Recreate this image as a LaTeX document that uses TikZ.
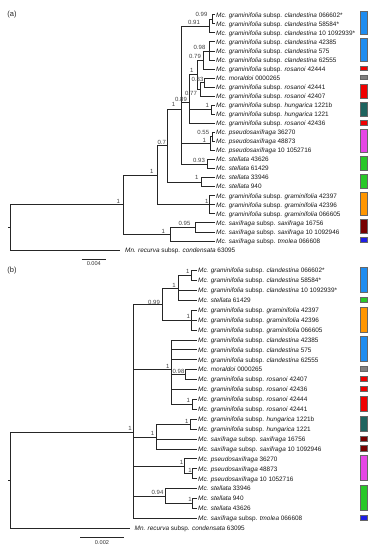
\documentclass[tikz,border=0pt]{standalone}
\usepackage{fontspec}
\setmainfont{Liberation Sans}
\newcommand{\grsub}[1]{\textit{Mc. graminifolia} subsp. \textit{#1}}
\newcommand{\sxsub}[1]{\textit{Mc. saxifraga} subsp. \textit{#1}}
\newcommand{\mcsp}[1]{\textit{Mc. #1}}
\definecolor{cblue}{RGB}{30,140,240}
\definecolor{cred}{RGB}{240,0,0}
\definecolor{cgray}{RGB}{128,128,128}
\definecolor{cteal}{RGB}{30,100,95}
\definecolor{cmag}{RGB}{230,70,230}
\definecolor{cgreen}{RGB}{40,200,40}
\definecolor{corange}{RGB}{255,150,0}
\definecolor{cmaroon}{RGB}{120,0,0}
\definecolor{cdblue}{RGB}{30,30,230}
\tikzset{
  br/.style={line width=0.8pt, draw=black!85},
  leaf/.style={anchor=west, inner xsep=1.5pt, inner ysep=0pt, font=\fontsize{6.4}{7}\selectfont, text=black!90, text height=4.6pt, text depth=0pt},
  supp/.style={font=\fontsize{6}{7}\selectfont, text=black!75, inner sep=0pt},
  panel/.style={font=\fontsize{7.5}{9}\selectfont, text=black!85, inner sep=0pt},
  sclab/.style={font=\fontsize{5.6}{7}\selectfont, text=black!80, inner sep=0pt},
  bar/.style={draw=black!60, line width=0.4pt},
}
\begin{document}
\begin{tikzpicture}[x=1pt,y=-1pt]
\path[fill=white,use as bounding box] (0,0) rectangle (375,550);

% ================= PANEL (a) =================
\node[panel] (pa) at (12,15) {(a)};
\foreach \i/\t in {0/{\grsub{clandestina} 066602*},1/{\grsub{clandestina} 58584*},2/{\grsub{clandestina} 10 1092939*},3/{\grsub{clandestina} 42385},4/{\grsub{clandestina} 575},5/{\grsub{clandestina} 62555},6/{\grsub{rosanoi} 42444},7/{\mcsp{moraldoi} 0000265},8/{\grsub{rosanoi} 42441},9/{\grsub{rosanoi} 42407},10/{\grsub{hungarica} 1221b},11/{\grsub{hungarica} 1221},12/{\grsub{rosanoi} 42436},13/{\mcsp{pseudosaxifraga} 36270},14/{\mcsp{pseudosaxifraga} 48873},15/{\mcsp{pseudosaxifraga} 10 1052716},16/{\mcsp{stellata} 43626},17/{\mcsp{stellata} 61429},18/{\mcsp{stellata} 33946},19/{\mcsp{stellata} 940},20/{\grsub{graminifolia} 42397},21/{\grsub{graminifolia} 42396},22/{\grsub{graminifolia} 066605},23/{\sxsub{saxifraga} 16756},24/{\sxsub{saxifraga} 10 1092946},25/{\sxsub{tmolea} 066608}}
  \node[leaf] (ta\i) at (214.5,{14.7+9.05*\i}) {\t};
\node[leaf, inner xsep=5pt] (ta26) at (120,250) {\textit{Mn. recurva} subsp. \textit{condensata} 63095};

\coordinate (aA) at (212,19.225);
\coordinate (aB) at (209.5,26.01);
\coordinate (aE0) at (209.5,50.9);
\coordinate (aE) at (203,59.95);
\coordinate (aM1) at (204.5,82.575);
\coordinate (aM2) at (200,89.36);
\coordinate (aQ) at (197.3,74.66);
\coordinate (aH) at (211.5,109.725);
\coordinate (aX) at (189.3,102.56);
\coordinate (aP1) at (212,136.875);
\coordinate (aP) at (210,143.66);
\coordinate (aST1) at (207,164.025);
\coordinate (aG3) at (181.5,109.06);
\coordinate (aST2) at (201.7,182.125);
\coordinate (aG2) at (167.7,145.59);
\coordinate (aGR) at (209.5,204.75);
\coordinate (aG1) at (157.3,175.17);
\coordinate (aS1) at (195,227.375);
\coordinate (aS2) at (170,234.16);
\coordinate (aR1) at (123.3,204.67);
\coordinate (aR0) at (10,227.33);

\draw[br] (aA) |- (ta0.west) (aA) |- (ta1.west);
\draw[br] (aB) |- (aA) (aB) |- (ta2.west);
\draw[br] (aE0) |- (ta3.west) (aE0) |- (ta4.west) (aE0) |- (ta5.west);
\draw[br] (aE) |- (aE0) (aE) |- (ta6.west);
\draw[br] (aM1) |- (ta7.west) (aM1) |- (ta8.west);
\draw[br] (aM2) |- (aM1) (aM2) |- (ta9.west);
\draw[br] (aQ) |- (aE) (aQ) |- (aM2);
\draw[br] (aH) |- (ta10.west) (aH) |- (ta11.west);
\draw[br] (aX) |- (aQ) (aX) |- (aH) (aX) |- (ta12.west);
\draw[br] (aP1) |- (ta13.west) (aP1) |- (ta14.west);
\draw[br] (aP) |- (aP1) (aP) |- (ta15.west);
\draw[br] (aST1) |- (ta16.west) (aST1) |- (ta17.west);
\draw[br] (aG3) |- (aB) (aG3) |- (aX) (aG3) |- (aP) (aG3) |- (aST1);
\draw[br] (aST2) |- (ta18.west) (aST2) |- (ta19.west);
\draw[br] (aG2) |- (aG3) (aG2) |- (aST2);
\draw[br] (aGR) |- (ta20.west) (aGR) |- (ta21.west) (aGR) |- (ta22.west);
\draw[br] (aG1) |- (aG2) (aG1) |- (aGR);
\draw[br] (aS1) |- (ta23.west) (aS1) |- (ta24.west);
\draw[br] (aS2) |- (aS1) (aS2) |- (ta25.west);
\draw[br] (aR1) |- (aG1) (aR1) |- (aS2);
\draw[br] (aR0) |- (aR1) (aR0) |- (ta26.west);
\draw[br] (aR0) -- ++(-2.5,0);

% support values (a)
\node[supp] (sa1) at (201.5,14.7) {0.99};
\node[supp] (sa2) at (194,22.7) {0.91};
\node[supp] (sa3) at (199.5,47.3) {0.98};
\node[supp] (sa4) at (195,56.7) {0.79};
\node[supp] (sa5) at (191.7,70.7) {1};
\node[supp] (sa6) at (197.5,79) {0.83};
\node[supp] (sa7) at (191,93.3) {0.77};
\node[supp] (sa8) at (181,99.2) {0.89};
\node[supp] (sa9) at (173.5,104.5) {1};
\node[supp] (sa10) at (207.3,105.7) {1};
\node[supp] (sa11) at (203.3,132.7) {0.55};
\node[supp] (sa12) at (204.3,140) {1};
\node[supp] (sa13) at (199,160) {0.93};
\node[supp] (sa14) at (161.7,142.3) {0.7};
\node[supp] (sa15) at (196.7,177.7) {1};
\node[supp] (sa16) at (151.7,171) {1};
\node[supp] (sa17) at (206.7,201) {1};
\node[supp] (sa18) at (184.5,223.3) {0.95};
\node[supp] (sa19) at (163.3,231) {1};
\node[supp] (sa20) at (118.3,201.7) {1};

% scale bar (a)
\coordinate (sba1) at (81.7,259);
\coordinate (sba2) at (106,259);
\draw[br] (sba1) -- (sba2);
\node[sclab] (sbla) at (93.8,264) {0.004};

% colour bars (a)
\foreach \c/\f/\l in {cblue/0/2, cblue/3/5, cred/6/6, cgray/7/7, cred/8/9, cteal/10/11, cred/12/12, cmag/13/15, cgreen/16/17, cgreen/18/19, corange/20/22, cmaroon/23/24, cdblue/25/25}
  \filldraw[bar, fill=\c] (360,{14.7+9.05*\f-3.3}) rectangle (366.7,{14.7+9.05*\l+1.6});

% ================= PANEL (b) =================
\node[panel] (pb) at (12,270.7) {(b)};
\foreach \i/\t in {0/{\grsub{clandestina} 066602*},1/{\grsub{clandestina} 58584*},2/{\grsub{clandestina} 10 1092939*},3/{\mcsp{stellata} 61429},4/{\grsub{graminifolia} 42397},5/{\grsub{graminifolia} 42396},6/{\grsub{graminifolia} 066605},7/{\grsub{clandestina} 42385},8/{\grsub{clandestina} 575},9/{\grsub{clandestina} 62555},10/{\mcsp{moraldoi} 0000265},11/{\grsub{rosanoi} 42407},12/{\grsub{rosanoi} 42436},13/{\grsub{rosanoi} 42444},14/{\grsub{rosanoi} 42441},15/{\grsub{hungarica} 1221b},16/{\grsub{hungarica} 1221},17/{\sxsub{saxifraga} 16756},18/{\sxsub{saxifraga} 10 1092946},19/{\mcsp{pseudosaxifraga} 36270},20/{\mcsp{pseudosaxifraga} 48873},21/{\mcsp{pseudosaxifraga} 10 1052716},22/{\mcsp{stellata} 33946},23/{\mcsp{stellata} 940},24/{\mcsp{stellata} 43626},25/{\sxsub{tmolea} 066608}}
  \node[leaf] (tb\i) at (196.5,{270.5+9.915*\i}) {\t};
\node[leaf, inner xsep=4.5pt] (tb26) at (130,528.29) {\textit{Mn. recurva} subsp. \textit{condensata} 63095};

\coordinate (bA) at (191.7,275.46);
\coordinate (bB) at (178.3,288.68);
\coordinate (bGR) at (191.7,320.08);
\coordinate (bC) at (162.5,304.38);
\coordinate (bM) at (185.7,374.61);
\coordinate (bR) at (192.7,404.36);
\coordinate (bE) at (171,369.65);
\coordinate (bH) at (190,424.19);
\coordinate (bHG) at (156.7,437.41);
\coordinate (bP1) at (192.7,473.76);
\coordinate (bP) at (184.3,466.33);
\coordinate (bS1) at (192.7,503.51);
\coordinate (bS) at (165.7,496.07);
\coordinate (bR1) at (133,432.04);
\coordinate (bR0) at (10,480.17);

\draw[br] (bA) |- (tb0.west) (bA) |- (tb1.west);
\draw[br] (bB) |- (bA) (bB) |- (tb2.west) (bB) |- (tb3.west);
\draw[br] (bGR) |- (tb4.west) (bGR) |- (tb5.west) (bGR) |- (tb6.west);
\draw[br] (bC) |- (bB) (bC) |- (bGR);
\draw[br] (bM) |- (tb10.west) (bM) |- (tb11.west);
\draw[br] (bR) |- (tb13.west) (bR) |- (tb14.west);
\draw[br] (bE) |- (tb7.west) (bE) |- (tb8.west) (bE) |- (tb9.west) (bE) |- (bM) (bE) |- (tb12.west) (bE) |- (bR);
\draw[br] (bH) |- (tb15.west) (bH) |- (tb16.west);
\draw[br] (bHG) |- (bH) (bHG) |- (tb17.west) (bHG) |- (tb18.west);
\draw[br] (bP1) |- (tb20.west) (bP1) |- (tb21.west);
\draw[br] (bP) |- (tb19.west) (bP) |- (bP1);
\draw[br] (bS1) |- (tb23.west) (bS1) |- (tb24.west);
\draw[br] (bS) |- (tb22.west) (bS) |- (bS1);
\draw[br] (bR1) |- (bC) (bR1) |- (bE) (bR1) |- (bHG) (bR1) |- (bP) (bR1) |- (bS) (bR1) |- (tb25.west);
\draw[br] (bR0) |- (bR1) (bR0) |- (tb26.west);
\draw[br] (bR0) -- ++(-2.5,0);

% support values (b)
\node[supp] (sb1) at (187.7,271) {1};
\node[supp] (sb2) at (174,285.5) {1};
\node[supp] (sb3) at (188.3,316.7) {1};
\node[supp] (sb4) at (154,302.3) {0.99};
\node[supp] (sb5) at (167.7,366) {1};
\node[supp] (sb6) at (178.5,371) {0.98};
\node[supp] (sb7) at (188.3,400.3) {1};
\node[supp] (sb8) at (186.7,421.7) {1};
\node[supp] (sb9) at (152.5,433.7) {1};
\node[supp] (sb10) at (130,428.3) {1};
\node[supp] (sb11) at (181.5,462.7) {1};
\node[supp] (sb12) at (190,470.7) {1};
\node[supp] (sb13) at (157.5,492.5) {0.94};
\node[supp] (sb14) at (190,499) {1};

% scale bar (b)
\coordinate (sbb1) at (80,537.7);
\coordinate (sbb2) at (124,537.7);
\draw[br] (sbb1) -- (sbb2);
\node[sclab] (sblb) at (102,542.3) {0.002};

% colour bars (b)
\foreach \c/\f/\l in {cblue/0/2, cgreen/3/3, corange/4/6, cblue/7/9, cgray/10/10, cred/11/11, cred/12/12, cred/13/14, cteal/15/16, cmaroon/17/17, cmaroon/18/18, cmag/19/21, cgreen/22/24, cdblue/25/25}
  \filldraw[bar, fill=\c] (360,{270.5+9.915*\f-3.3}) rectangle (366.7,{270.5+9.915*\l+1.8});
\end{tikzpicture}
\end{document}
